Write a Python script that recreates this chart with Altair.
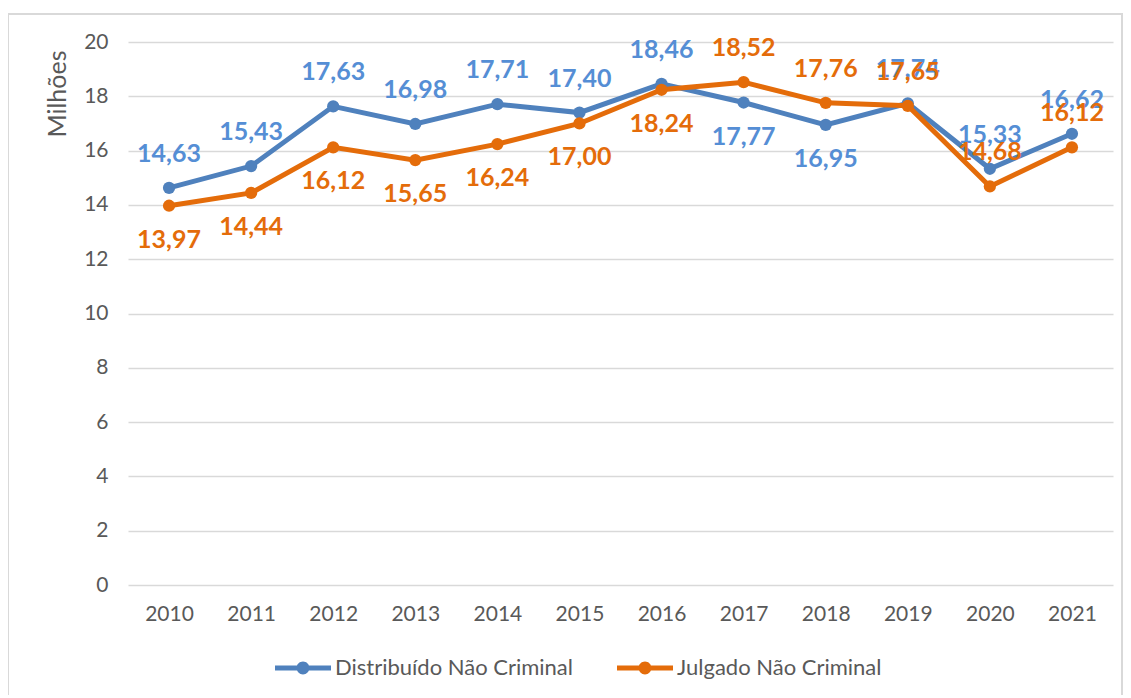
import altair as alt
import pandas as pd

years = ["2010", "2011", "2012", "2013", "2014", "2015", "2016", "2017", "2018", "2019", "2020", "2021"]
series_names = ["Distribuído Não Criminal", "Julgado Não Criminal"]
distribuido = [14.63, 15.43, 17.63, 16.98, 17.71, 17.40, 18.46, 17.77, 16.95, 17.74, 15.33, 16.62]
julgado = [13.97, 14.44, 16.12, 15.65, 16.24, 17.00, 18.24, 18.52, 17.76, 17.65, 14.68, 16.12]
# where each data label sits relative to its point
distribuido_side = ["above"] * 7 + ["below", "below"] + ["above"] * 3
julgado_side = ["below"] * 7 + ["above"] * 5
y_ticks = [0, 2, 4, 6, 8, 10, 12, 14, 16, 18, 20]

line_colors = ["#4f81bd", "#e46c0a"]
label_colors = ["#558ed5", "#e46c0a"]

rows = []
for name, vals, sides in [(series_names[0], distribuido, distribuido_side),
                          (series_names[1], julgado, julgado_side)]:
    for yr, v, s in zip(years, vals, sides):
        rows.append({"year": yr, "series": name, "value": v, "side": s,
                     "label": f"{v:.2f}".replace(".", ",")})
df = pd.DataFrame(rows)

FONT = "Lato"
GREY = "#595959"

x_enc = alt.X("year:N", sort=years,
              scale=alt.Scale(paddingInner=0, paddingOuter=0.5),
              axis=alt.Axis(title=None, labelAngle=0, ticks=False, domain=False,
                            labelFont=FONT, labelFontSize=21, labelColor=GREY,
                            labelPadding=18, grid=False))
y_enc = alt.Y("value:Q", scale=alt.Scale(domain=[0, 20], nice=False),
              axis=alt.Axis(title="Milhões", values=y_ticks, ticks=False, domain=False,
                            labelFont=FONT, labelFontSize=21, labelColor=GREY,
                            labelPadding=20, titleFont=FONT, titleFontSize=25,
                            titleFontWeight="normal", titleColor=GREY, titlePadding=13,
                            titleAnchor="end", titleY=8,
                            gridColor="#d9d9d9", gridWidth=1.5))

legend_symbol = ("M-1,-0.09L1,-0.09L1,0.09L-1,0.09Z "
                 "M-0.23,0A0.23,0.23 0 1,1 0.23,0A0.23,0.23 0 1,1 -0.23,0Z")
color_enc = alt.Color("series:N",
                      scale=alt.Scale(domain=series_names, range=line_colors),
                      legend=alt.Legend(title=None, orient="none", direction="horizontal",
                                        legendX=147, legendY=598, labelLimit=0,
                                        symbolType=legend_symbol, symbolSize=3136,
                                        symbolStrokeWidth=0, labelFont=FONT,
                                        labelFontSize=22, labelColor=GREY,
                                        labelOffset=4, columnPadding=44))

base = alt.Chart(df)

layers = []
for name in series_names:
    sub = base.transform_filter(alt.datum.series == name)
    layers.append(sub.mark_line(strokeWidth=5).encode(x=x_enc, y=y_enc, color=color_enc))
    layers.append(sub.mark_point(filled=True, size=150, opacity=1).encode(
        x=x_enc, y=y_enc, color=color_enc))

text_fill = alt.Fill("series:N", scale=alt.Scale(domain=series_names, range=label_colors),
                     legend=None)
for side, dy in [("above", -34), ("below", 34)]:
    layers.append(base.transform_filter(alt.datum.side == side).mark_text(
        font=FONT, fontSize=25, fontWeight="bold", dy=dy, baseline="middle").encode(
        x=x_enc, y=y_enc, text="label:N", fill=text_fill))

frame = base.mark_rect(fill=None, stroke="#d9d9d9", strokeWidth=1.5).encode(
    x=alt.value(-120), x2=alt.value(994), y=alt.value(-28), y2=alt.value(680))

chart = alt.layer(frame, *layers).properties(
    width=985, height=543,
    autosize=alt.AutoSizeParams(type="none"),
    padding={"left": 120, "top": 34, "right": 10, "bottom": 110},
).configure_view(stroke=None)

chart.save("out.html", embed_options={"renderer": "svg", "actions": False})
